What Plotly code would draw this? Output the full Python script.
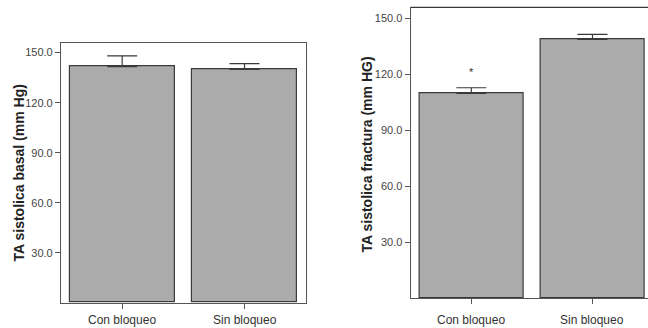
import plotly.graph_objects as go

categories = ["Con bloqueo", "Sin bloqueo"]
basal_means = [141.6, 140.0]
basal_err_up = [6.4, 3.4]
fractura_means = [109.8, 138.7]
fractura_err_up = [3.0, 2.7]
tick_vals = [30, 60, 90, 120, 150]
tick_text = ["30.0", "60.0", "90.0", "120.0", "150.0"]
title_left = "TA sistolica basal (mm Hg)"
title_right = "TA sistolica fractura (mm HG)"
star_label = "*"
star_y = 121

W, H = 648, 328
def fx(px): return px / W
def fy(py): return 1 - py / H

bar_fill = "#ababab"
line_col = "#3a3a3a"
axis_col = "#555555"
FAM = "Liberation Sans, Arial, sans-serif"
tick_font = dict(family=FAM, size=11, color="#444444")
xlab_font = dict(family=FAM, size=12, color="#333333")
title_font = dict(family=FAM, size=14, color="#222222")

fig = go.Figure()
fig.add_trace(go.Bar(
    x=categories, y=basal_means, width=0.856,
    marker=dict(color=bar_fill, line=dict(color=line_col, width=1.2)),
    error_y=dict(type="data", symmetric=False, array=basal_err_up,
                 arrayminus=[0, 0], color=line_col, thickness=1.2, width=15),
    xaxis="x", yaxis="y", showlegend=False, hoverinfo="skip"))
fig.add_trace(go.Bar(
    x=categories, y=fractura_means, width=0.858,
    marker=dict(color=bar_fill, line=dict(color=line_col, width=1.2)),
    error_y=dict(type="data", symmetric=False, array=fractura_err_up,
                 arrayminus=[0, 0], color=line_col, thickness=1.2, width=15),
    xaxis="x2", yaxis="y2", showlegend=False, hoverinfo="skip"))

common_y = dict(tickvals=tick_vals, ticktext=tick_text, ticks="outside", ticklen=5,
                tickcolor=axis_col, tickfont=tick_font, showgrid=False, zeroline=False,
                showline=True, linecolor=axis_col, linewidth=1.2)
common_x = dict(ticks="outside", ticklen=5, tickcolor=axis_col, showticklabels=False,
                showgrid=False, zeroline=False, showline=True, linecolor=axis_col,
                linewidth=1.2)

fig.update_layout(
    width=W, height=H, margin=dict(l=0, r=0, t=0, b=0),
    paper_bgcolor="white", plot_bgcolor="white", bargap=0,
    xaxis=dict(domain=[fx(61), fx(305.7)], range=[-0.5, 1.5], anchor="y",
               mirror=True, **common_x),
    yaxis=dict(domain=[fy(302.7), fy(43.3)], range=[0, 155.6], anchor="x", mirror=True,
               **common_y),
    xaxis2=dict(domain=[fx(410.7), 1.0], range=[-0.5, 1.458], anchor="y2",
                mirror=False, **common_x),
    yaxis2=dict(domain=[fy(298.3), fy(7.3)], range=[0, 155.9], anchor="x2",
                **common_y),
)
# top border of right panel
fig.add_shape(type="line", xref="x2 domain", yref="y2 domain", x0=0, x1=1, y0=1, y1=1,
              line=dict(color=line_col, width=1.2))
# y-axis titles
fig.add_annotation(x=fx(18.5), y=fy(173), xref="paper", yref="paper",
                   text="<b>" + title_left + "</b>", textangle=-90, showarrow=False,
                   xanchor="center", yanchor="middle", font=title_font)
fig.add_annotation(x=fx(366.5), y=fy(155), xref="paper", yref="paper",
                   text="<b>" + title_right + "</b>", textangle=-90, showarrow=False,
                   xanchor="center", yanchor="middle", font=title_font)
# category labels
for xa in ["x", "x2"]:
    for c in categories:
        fig.add_annotation(x=c, y=fy(320), xref=xa, yref="paper", text=c,
                           showarrow=False, yanchor="middle", font=xlab_font)
fig.add_annotation(x=categories[0], y=star_y, xref="x2", yref="y2", text=star_label,
                   showarrow=False, yanchor="middle",
                   font=dict(family=FAM, size=11, color="#333333"))
fig.write_html("out.html", config={"displayModeBar": False},
               post_script="document.body.style.margin='0';document.body.style.overflow='hidden';")
